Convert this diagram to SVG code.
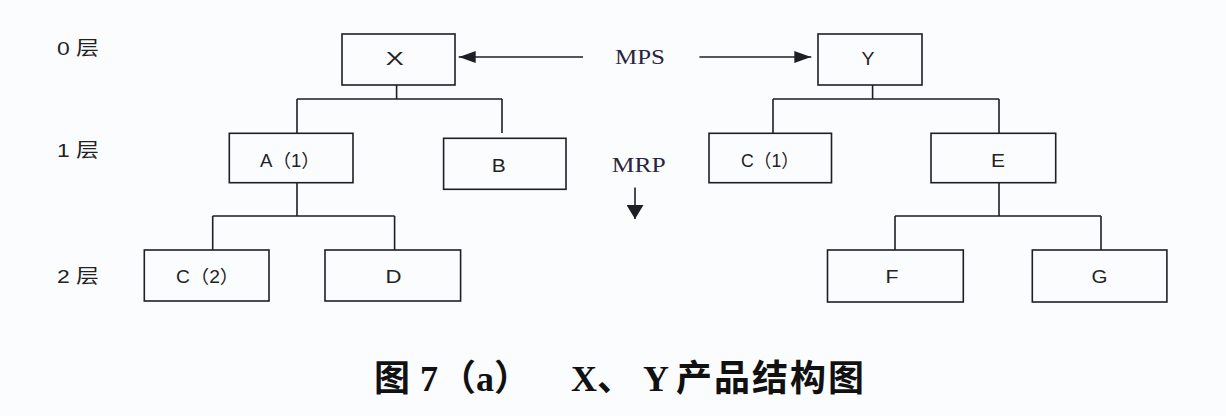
<svg xmlns="http://www.w3.org/2000/svg" width="1226" height="416" viewBox="0 0 1226 416">
<style>
.box{fill:none;stroke:#1e1e24;stroke-width:1.6}
.ln{fill:none;stroke:#1e1e24;stroke-width:1.6}
.lbl{font-family:"Liberation Sans","Noto Sans CJK SC",sans-serif;font-size:18px;fill:#222;text-anchor:middle}
.lvl{font-family:"Liberation Sans","Noto Sans CJK SC",sans-serif;font-size:19px;fill:#222}
.ser{font-family:"Liberation Serif","Noto Sans CJK SC",serif;font-size:22px;fill:#2a2440}
.ttl{font-family:"Liberation Serif","Noto Sans CJK SC",serif;font-size:36px;font-weight:bold;fill:#111}
</style>
<defs>
<marker id="ah" markerUnits="userSpaceOnUse" markerWidth="17" markerHeight="12" refX="17" refY="6" orient="auto">
<path d="M0,0 L17,6 L0,12 z" fill="#1e1e24"/>
</marker>
<marker id="ahd" markerUnits="userSpaceOnUse" markerWidth="14" markerHeight="17" refX="14" refY="8.5" orient="auto">
<path d="M0,0 L14,8.5 L0,17 z" fill="#1e1e24"/>
</marker>
</defs>
<rect x="0" y="0" width="1226" height="416" fill="#fbfcfe"/>

<g id="levels">
<text class="lvl" x="57" y="55" textLength="42" lengthAdjust="spacingAndGlyphs">0 层</text>
<text class="lvl" x="57" y="157" textLength="42" lengthAdjust="spacingAndGlyphs">1 层</text>
<text class="lvl" x="57" y="283" textLength="42" lengthAdjust="spacingAndGlyphs">2 层</text>
</g>

<g id="connectors">
<path class="ln" d="M396.6,85 V99 M297,99 H502 M297,99 V133.3 M502,99 V133"/>
<path class="ln" d="M297,182.7 V216 M212.7,216 H394.6 M212.7,216 V250 M394.6,216 V250"/>
<path class="ln" d="M872.6,85 V99 M773,99 H999 M773,99 V133.3 M999,99 V133.3"/>
<path class="ln" d="M999,182.7 V216 M895,216 H1101 M895,216 V250 M1101,216 V250"/>
<line class="ln" x1="583" y1="57" x2="458.7" y2="57" marker-end="url(#ah)"/>
<line class="ln" x1="699.4" y1="57" x2="811.3" y2="57" marker-end="url(#ah)"/>
<line class="ln" x1="635" y1="187.5" x2="635" y2="219" marker-end="url(#ahd)"/>
</g>

<g id="mps"><text class="ser" x="615" y="63.5" textLength="50" lengthAdjust="spacingAndGlyphs">MPS</text></g>
<g id="mrp"><text class="ser" x="611.7" y="171.7" textLength="54" lengthAdjust="spacingAndGlyphs">MRP</text></g>

<g id="node-X"><rect class="box" x="342" y="34" width="113" height="51"/><text class="lbl" x="394.8" y="65" textLength="18" lengthAdjust="spacingAndGlyphs">X</text></g>
<g id="node-A"><rect class="box" x="229.3" y="133.3" width="123.7" height="49.4"/><text class="lbl" x="290" y="166.5" textLength="60" lengthAdjust="spacingAndGlyphs">A（1）</text></g>
<g id="node-B"><rect class="box" x="443.6" y="138.3" width="122.4" height="51"/><text class="lbl" x="498.7" y="171.5" textLength="14" lengthAdjust="spacingAndGlyphs">B</text></g>
<g id="node-C2"><rect class="box" x="144.3" y="250" width="124.7" height="51"/><text class="lbl" x="207.6" y="283" textLength="63" lengthAdjust="spacingAndGlyphs">C（2）</text></g>
<g id="node-D"><rect class="box" x="325" y="250" width="135.6" height="51"/><text class="lbl" x="393.4" y="283" textLength="16" lengthAdjust="spacingAndGlyphs">D</text></g>
<g id="node-Y"><rect class="box" x="818" y="34" width="104" height="51"/><text class="lbl" x="868" y="65" textLength="13" lengthAdjust="spacingAndGlyphs">Y</text></g>
<g id="node-C1"><rect class="box" x="709" y="133.3" width="122.5" height="49.4"/><text class="lbl" x="770" y="166.5" textLength="58" lengthAdjust="spacingAndGlyphs">C（1）</text></g>
<g id="node-E"><rect class="box" x="931" y="133.3" width="124.7" height="49.4"/><text class="lbl" x="998" y="166.5" textLength="14" lengthAdjust="spacingAndGlyphs">E</text></g>
<g id="node-F"><rect class="box" x="827.5" y="250" width="135.8" height="52"/><text class="lbl" x="892" y="282.5" textLength="13" lengthAdjust="spacingAndGlyphs">F</text></g>
<g id="node-G"><rect class="box" x="1032.3" y="250" width="134.6" height="52"/><text class="lbl" x="1099.6" y="282.5" textLength="16" lengthAdjust="spacingAndGlyphs">G</text></g>

<g id="title">
<text class="ttl" y="391"><tspan x="374">图</tspan><tspan x="420">7</tspan><tspan x="440">（a）</tspan><tspan x="571">X、</tspan><tspan x="643">Y</tspan><tspan x="676" letter-spacing="2">产品结构图</tspan></text>
</g>
</svg>
